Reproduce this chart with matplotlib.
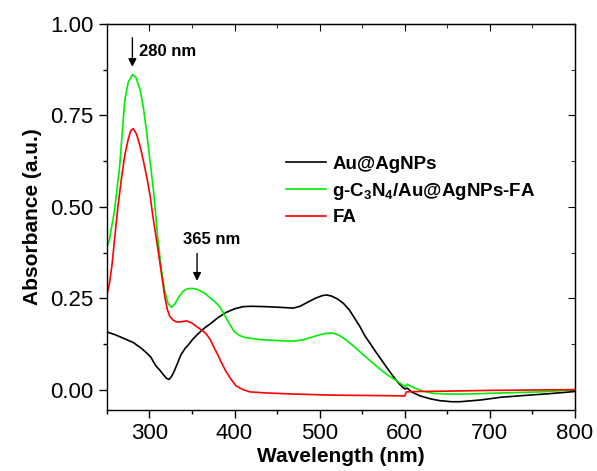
import matplotlib
matplotlib.use("Agg")
import matplotlib.pyplot as plt
from matplotlib.ticker import MultipleLocator

plt.rcParams["font.family"] = ["Liberation Sans", "DejaVu Sans"]
plt.rcParams["mathtext.fontset"] = "custom"
plt.rcParams["mathtext.bf"] = "Liberation Sans:bold"
plt.rcParams["mathtext.default"] = "bf"

# UV-vis spectra, wavelength (nm) vs absorbance (a.u.)
wl_au = [250, 260, 270, 281, 290, 297, 302, 305, 308, 312, 316, 320, 323, 326, 329, 333,
         337, 342, 347, 351, 356, 361, 366, 371, 380, 390, 400, 410, 420, 437, 455, 469,
         477, 485, 495, 503, 508, 514, 521, 528, 535, 541, 547, 553, 560, 567, 574, 580,
         586, 592, 597, 600, 603, 608, 618, 630, 641, 655, 665, 690, 712, 740, 770, 800]
abs_au = [0.158, 0.150, 0.140, 0.129, 0.114, 0.100, 0.088, 0.075, 0.064, 0.054, 0.042,
          0.031, 0.028, 0.036, 0.050, 0.072, 0.095, 0.113, 0.126, 0.138, 0.150, 0.161,
          0.171, 0.179, 0.196, 0.211, 0.221, 0.227, 0.228, 0.227, 0.225, 0.223, 0.228,
          0.238, 0.250, 0.257, 0.259, 0.256, 0.248, 0.236, 0.218, 0.196, 0.174, 0.148,
          0.124, 0.100, 0.077, 0.057, 0.038, 0.020, 0.008, 0.002, 0.004, -0.006, -0.017,
          -0.025, -0.030, -0.033, -0.033, -0.028, -0.021, -0.016, -0.011, -0.005]

wl_gcn = [250, 253, 256, 259, 262, 265, 268, 271, 275, 280, 284, 289, 293, 297, 301, 305,
          310, 314, 318, 322, 326, 330, 335, 340, 345, 350, 355, 360, 366, 372, 378, 383,
          388, 394, 400, 406, 412, 420, 430, 445, 460, 470, 480, 490, 500, 508, 515, 522,
          530, 540, 550, 560, 570, 580, 590, 598, 601, 603, 606, 612, 620, 633, 650, 672,
          700, 730, 760, 790, 800]
abs_gcn = [0.39, 0.41, 0.45, 0.49, 0.55, 0.61, 0.70, 0.79, 0.84, 0.862, 0.855, 0.82, 0.77,
           0.70, 0.62, 0.54, 0.41, 0.33, 0.27, 0.235, 0.225, 0.235, 0.255, 0.27, 0.276,
           0.277, 0.275, 0.27, 0.262, 0.25, 0.238, 0.226, 0.205, 0.18, 0.158, 0.148, 0.143,
           0.140, 0.137, 0.135, 0.133, 0.133, 0.136, 0.143, 0.150, 0.154, 0.155, 0.150,
           0.138, 0.119, 0.098, 0.078, 0.058, 0.040, 0.025, 0.012, 0.008, 0.015, 0.011,
           0.004, -0.003, -0.010, -0.012, -0.012, -0.010, -0.008, -0.006, -0.002, 0.000]

wl_fa = [250, 253, 256, 259, 263, 267, 271, 275, 278, 281, 285, 289, 293, 297, 301, 304,
         307, 310, 314, 318, 321, 324, 328, 332, 338, 344, 350, 357, 363, 367, 372, 376,
         380, 385, 390, 396, 402, 410, 418, 437, 470, 515, 560, 600, 602, 615, 650, 700,
         750, 800]
abs_fa = [0.26, 0.29, 0.34, 0.41, 0.50, 0.575, 0.64, 0.684, 0.708, 0.714, 0.698, 0.666,
          0.625, 0.580, 0.528, 0.475, 0.43, 0.384, 0.32, 0.255, 0.22, 0.200, 0.19, 0.185,
          0.186, 0.188, 0.182, 0.170, 0.160, 0.152, 0.135, 0.115, 0.097, 0.072, 0.050,
          0.028, 0.010, 0.0, -0.006, -0.009, -0.012, -0.015, -0.016, -0.017, -0.006,
          -0.005, -0.004, -0.002, -0.001, 0.0]

labels = ["Au@AgNPs", "g-C$_3$N$_4$/Au@AgNPs-FA", "FA"]
colors = ["#000000", "#00ee00", "#ff0000"]

fig = plt.figure(figsize=(5.97, 4.71), dpi=100)
ax = fig.add_axes([0.179, 0.130, 0.784, 0.819])

for x, y, lab, c in zip([wl_au, wl_gcn, wl_fa], [abs_au, abs_gcn, abs_fa], labels, colors):
    ax.plot(x, y, color=c, lw=1.2, label=lab)

ax.set_xlim(250, 800)
ax.set_ylim(-0.055, 1.0)
ax.xaxis.set_major_locator(MultipleLocator(100))
ax.xaxis.set_minor_locator(MultipleLocator(50))
ax.yaxis.set_major_locator(MultipleLocator(0.25))
ax.yaxis.set_minor_locator(MultipleLocator(0.125))
ax.yaxis.set_major_formatter(plt.FuncFormatter(lambda v, _: f"{v:.2f}"))
ax.tick_params(which="both", direction="out", top=False, right=False, labelsize=16, width=1)
ax.tick_params(which="major", length=6)
ax.tick_params(which="minor", length=3)
for s in ax.spines.values():
    s.set_linewidth(1.0)

# inward ticks on the opposite spines
axr = ax.secondary_yaxis("right")
axr.yaxis.set_major_locator(MultipleLocator(0.25))
axr.yaxis.set_minor_locator(MultipleLocator(0.125))
axr.tick_params(which="both", direction="in", labelright=False)
axr.tick_params(which="major", length=5)
axr.tick_params(which="minor", length=3)
axt = ax.secondary_xaxis("top")
axt.xaxis.set_major_locator(MultipleLocator(100))
axt.xaxis.set_minor_locator(MultipleLocator(50))
axt.tick_params(which="both", direction="in", labeltop=False)
axt.tick_params(which="major", length=5)
axt.tick_params(which="minor", length=3)

ax.set_xlabel("Wavelength (nm)", fontsize=15, fontweight="bold", labelpad=2)
ax.set_ylabel("Absorbance (a.u.)", fontsize=15, fontweight="bold", labelpad=6)

ax.annotate("", xy=(280, 0.875), xytext=(280, 0.97),
            arrowprops=dict(arrowstyle="-|>", color="black", lw=1, mutation_scale=12))
ax.text(288, 0.925, "280 nm", fontsize=12, fontweight="bold", va="center", ha="left")
ax.annotate("", xy=(356, 0.29), xytext=(356, 0.38),
            arrowprops=dict(arrowstyle="-|>", color="black", lw=1, mutation_scale=12))
ax.text(373, 0.41, "365 nm", fontsize=12, fontweight="bold", va="center", ha="center")

ax.legend(loc="center left", bbox_to_anchor=(0.383, 0.567), frameon=False,
          prop={"size": 13.5, "weight": "bold"}, handlelength=2.1, handletextpad=0.37,
          labelspacing=0.4, borderpad=0, borderaxespad=0)

fig.savefig("out.png", dpi=100)
